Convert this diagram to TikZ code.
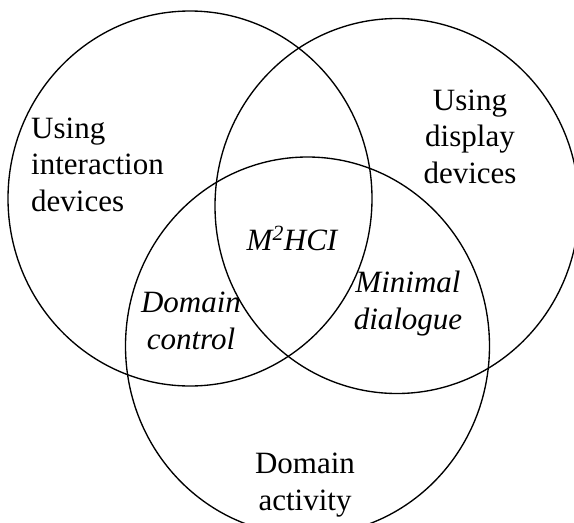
\documentclass[tikz,border=0pt]{standalone}
\usepackage{fontspec}
\setmainfont{Liberation Serif}
\usetikzlibrary{shapes.geometric}
\begin{document}
\begin{tikzpicture}[x=1pt,y=-1pt,
  setcircle/.style={draw,ellipse,line width=1.35pt,inner sep=0pt,minimum width=364pt,minimum height=375pt},
  lbl/.style={inner sep=0pt,font=\fontsize{31}{36.5}\selectfont}]
\useasboundingbox (0,0) rectangle (574,523);
\clip (0,0) rectangle (574,523);
\node[setcircle] (c1) at (190,198.5) {};
\node[setcircle] (c2) at (397,206) {};
\node[setcircle,minimum height=378pt] (c3) at (307.5,346) {};
\node[lbl,anchor=base west,align=left] (interact) at (31,211) {Using\\interaction\\devices};
\node[lbl,anchor=base,align=center] (display) at (470,183) {Using\\display\\devices};
\node[lbl,anchor=base] (mhci) at (292,250) {\itshape M\textsuperscript{2}HCI};
\node[lbl,anchor=base,align=center] (minimal) at (408,329) {\itshape Minimal\\\itshape dialogue};
\node[lbl,anchor=base,align=center] (dcontrol) at (191,349) {\itshape Domain\\\itshape control};
\node[lbl,anchor=base,align=center] (dactivity) at (305,510) {Domain\\activity};
\end{tikzpicture}
\end{document}
